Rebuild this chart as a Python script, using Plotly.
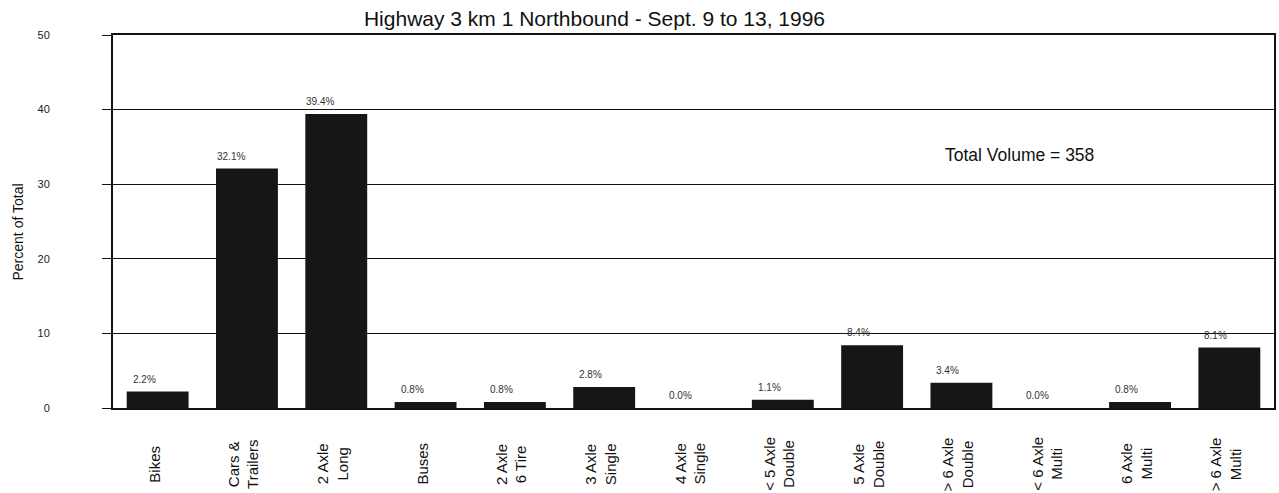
import plotly.graph_objects as go

# Vehicle classes (multi-line labels use "\n") and their share of total volume
categories = [
    "Bikes", "Cars &\nTrailers", "2 Axle\nLong", "Buses", "2 Axle\n6 Tire",
    "3 Axle\nSingle", "4 Axle\nSingle", "< 5 Axle\nDouble", "5 Axle\nDouble",
    "> 6 Axle\nDouble", "< 6 Axle\nMulti", "6 Axle\nMulti", "> 6 Axle\nMulti",
]
percent = [2.2, 32.1, 39.4, 0.8, 0.8, 2.8, 0.0, 1.1, 8.4, 3.4, 0.0, 0.8, 8.1]
y_ticks = [0, 10, 20, 30, 40, 50]
total_volume = 358

title_text = "Highway 3 km 1 Northbound - Sept. 9 to 13, 1996"
FONT = "Liberation Sans, Arial, Helvetica, sans-serif"


def to_markup(s):
    s = s.replace("<", "&lt;").replace(">", "&gt;")
    return s.replace("\n", "<br>")


keys = [c.replace("\n", " ") for c in categories]

fig = go.Figure()
fig.add_trace(go.Bar(
    x=keys, y=percent,
    marker=dict(color="#161616", line=dict(width=0)),
    hoverinfo="x+y",
))

annotations = []
# value labels above the bars
for k, v in zip(keys, percent):
    annotations.append(dict(
        x=k, y=v, xref="x", yref="y", text=f"{v:.1f}%", showarrow=False,
        xanchor="right", yanchor="middle", xshift=0, yshift=12.5,
        font=dict(family=FONT, size=10, color="#333333"),
    ))
# rotated category labels below the axis
for k, c in zip(keys, categories):
    annotations.append(dict(
        x=k, y=0, xref="x", yref="y", text=to_markup(c), showarrow=False,
        textangle=-90, xanchor="center", yanchor="middle", align="center",
        xshift=-4, yshift=-56,
        font=dict(family=FONT, size=15, color="#111111"),
    ))
# axis title
annotations.append(dict(
    x=0, y=0.5, xref="paper", yref="paper", text="Percent of Total",
    showarrow=False, textangle=-90, xanchor="center", yanchor="middle",
    xshift=-96, yshift=-11,
    font=dict(family=FONT, size=14, color="#111111"),
))
# total volume note
annotations.append(dict(
    x=0.781, y=33.9, xref="paper", yref="y",
    text=f"Total Volume = {total_volume}", showarrow=False,
    xanchor="center", yanchor="middle",
    font=dict(family=FONT, size=17.5, color="#111111"),
))

fig.update_layout(
    width=1279, height=493,
    margin=dict(l=113, r=3, t=35, b=85),
    paper_bgcolor="white", plot_bgcolor="white",
    showlegend=False,
    bargap=0.307,
    title=dict(
        text=title_text, x=594.5 / 1279, xanchor="center", xref="container",
        y=1 - 19 / 493, yanchor="middle", yref="container",
        font=dict(family=FONT, size=21, color="#111111"),
    ),
    font=dict(family=FONT, color="#111111"),
    annotations=annotations,
)

fig.update_xaxes(
    type="category", showticklabels=False, ticks="",
    showline=True, linecolor="#111111", linewidth=2, mirror=True,
    showgrid=False, zeroline=False,
)
fig.update_yaxes(
    range=[0, 50], tickvals=y_ticks, ticktext=[str(t) for t in y_ticks],
    ticks="outside", ticklen=9, tickcolor="#111111", tickwidth=1,
    ticklabelstandoff=50,
    tickfont=dict(family=FONT, size=11, color="#222222"),
    showline=True, linecolor="#111111", linewidth=2, mirror=True,
    showgrid=True, gridcolor="#111111", gridwidth=1, zeroline=False,
)

fig.write_html("out.html")
